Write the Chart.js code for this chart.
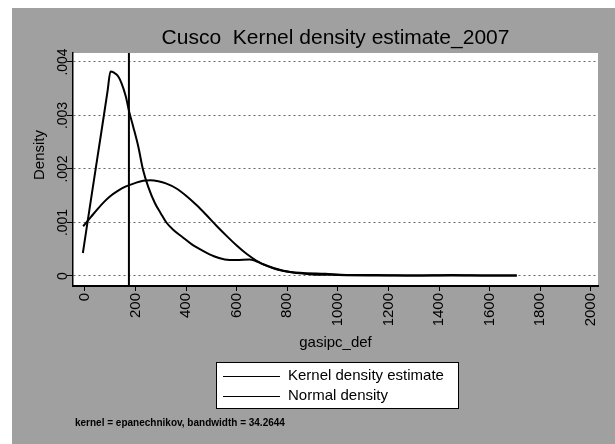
<!DOCTYPE html>
<html>
<head>
<meta charset="utf-8">
<script src="https://cdn.jsdelivr.net/npm/chart.js@4/dist/chart.umd.min.js"></script>
<style>
  html, body { margin: 0; padding: 0; background: #fff; }
  canvas { display: block; }
</style>
</head>
<body>
<canvas id="chart" width="615" height="444"></canvas>
<script>
// values
const kernelX = [-8, 0, 25, 50, 75, 90, 101, 115, 132, 145, 162, 175, 191, 211, 230, 250, 277, 300, 322, 350, 385, 420, 467, 510, 553, 600, 650, 680, 705, 745, 784, 850, 950, 1034, 1150, 1300, 1450, 1600, 1707];
const kernelY = [0.00043, 0.00068, 0.00146, 0.00223, 0.0030, 0.00347, 0.00382, 0.0038, 0.00373, 0.0036, 0.00335, 0.00307, 0.00279, 0.00242, 0.00198, 0.00167, 0.00136, 0.00117, 0.001, 0.00086, 0.00073, 0.0006, 0.00047, 0.00037, 0.00031, 0.0003, 0.00031, 0.00027, 0.00022, 0.00015, 0.0001, 0.00006, 0.00004, 0.00002, 0.00002, 0.00001, 0.00002, 0.00001, 0.00001];

const normalX = [-7, 25, 50, 75, 100, 130, 160, 200, 230, 260, 290, 320, 360, 400, 440, 480, 520, 560, 600, 640, 680, 720, 760, 800, 850, 900, 1000, 1200, 1707];
const normalY = [0.00093, 0.00111, 0.00125, 0.00138, 0.00149, 0.00159, 0.00167, 0.00174, 0.00178, 0.00179, 0.00177, 0.00173, 0.00164, 0.0015, 0.00133, 0.00114, 0.00094, 0.00075, 0.00057, 0.00041, 0.00028, 0.00019, 0.00012, 0.00008, 0.00005, 0.00003, 0.00002, 0.00001, 0.00001];

const refLine = 174;
const xRange = [-47, 2028];
const yRange = [-0.000187, 0.004168];

const titleText = 'Cusco  Kernel density estimate_2007';
const xTitle = 'gasipc_def';
const yTitle = 'Density';
const legendLabels = ['Kernel density estimate', 'Normal density'];
const noteText = 'kernel = epanechnikov, bandwidth = 34.2644';

const FONT = '"Liberation Sans", Arial, Helvetica, sans-serif';

function fmtY(v) {
  if (Math.abs(v) < 1e-9) return '0';
  return v.toFixed(3).replace(/^0/, '');
}

const toPts = (xs, ys) => xs.map((x, i) => ({ x: x, y: ys[i] }));

const paper = {
  id: 'paper',
  beforeDraw(chart) {
    const { ctx, chartArea: a } = chart;
    ctx.save();
    ctx.fillStyle = '#fff';
    ctx.fillRect(0, 0, chart.width, chart.height);
    ctx.fillStyle = '#a0a0a0';
    ctx.fillRect(12, 8, chart.width - 12, chart.height - 8);
    ctx.fillStyle = '#fff';
    ctx.fillRect(a.left, a.top, a.right - a.left, a.bottom - a.top);
    ctx.restore();
  },
  beforeDatasetsDraw(chart) {
    // vertical reference line
    const { ctx, chartArea: a } = chart;
    const px = chart.scales.x.getPixelForValue(refLine);
    ctx.save();
    ctx.strokeStyle = '#000';
    ctx.lineWidth = 2;
    ctx.beginPath();
    ctx.moveTo(px, a.top);
    ctx.lineTo(px, a.bottom);
    ctx.stroke();
    ctx.restore();
  },
  afterDraw(chart) {
    const { ctx, chartArea: a } = chart;
    const ys = chart.scales.y;
    ctx.save();
    ctx.fillStyle = '#000';

    // title
    ctx.font = '21px ' + FONT;
    ctx.textAlign = 'center';
    ctx.textBaseline = 'middle';
    ctx.fillText(titleText, (a.left + a.right) / 2, 38);

    // y tick labels, rotated like Stata's
    ctx.font = '14px ' + FONT;
    ys.ticks.forEach(t => {
      ctx.save();
      ctx.translate(63, ys.getPixelForValue(t.value));
      ctx.rotate(-Math.PI / 2);
      ctx.fillText(fmtY(t.value), 0, 0);
      ctx.restore();
    });

    // y title
    ctx.font = '15px ' + FONT;
    ctx.save();
    ctx.translate(40, 155);
    ctx.rotate(-Math.PI / 2);
    ctx.fillText(yTitle, 0, 0);
    ctx.restore();

    // x title
    ctx.fillText(xTitle, (a.left + a.right) / 2, 343);

    // legend box
    const bx = 216, by = 362, bw = 242, bh = 46;
    ctx.fillStyle = '#fff';
    ctx.fillRect(bx, by, bw, bh);
    ctx.strokeStyle = '#000';
    ctx.lineWidth = 1;
    ctx.strokeRect(bx + 0.5, by + 0.5, bw, bh);
    ctx.fillStyle = '#000';
    ctx.textAlign = 'left';
    ctx.font = '15px ' + FONT;
    legendLabels.forEach((lab, i) => {
      const ly = 376 + i * 20;
      ctx.beginPath();
      ctx.moveTo(223, ly + 0.5);
      ctx.lineTo(280, ly + 0.5);
      ctx.stroke();
      ctx.fillText(lab, 288, ly);
    });

    // note
    ctx.font = 'bold 10px ' + FONT;
    ctx.fillText(noteText, 75, 423);
    ctx.restore();
  }
};

new Chart(document.getElementById('chart'), {
  type: 'line',
  data: {
    datasets: [
      {
        label: legendLabels[0],
        data: toPts(kernelX, kernelY),
        borderColor: '#000',
        borderWidth: 2,
        pointRadius: 0,
        cubicInterpolationMode: 'monotone',
        fill: false
      },
      {
        label: legendLabels[1],
        data: toPts(normalX, normalY),
        borderColor: '#000',
        borderWidth: 2,
        pointRadius: 0,
        cubicInterpolationMode: 'monotone',
        fill: false
      }
    ]
  },
  options: {
    responsive: false,
    animation: false,
    devicePixelRatio: 1,
    layout: { padding: { top: 53, right: 17, left: 0, bottom: 0 } },
    plugins: {
      legend: { display: false },
      title: { display: false },
      tooltip: { enabled: false }
    },
    scales: {
      x: {
        type: 'linear',
        min: xRange[0],
        max: xRange[1],
        afterFit: s => { s.height = 158; },
        ticks: {
          stepSize: 200,
          includeBounds: false,
          minRotation: 90,
          maxRotation: 90,
          padding: 2,
          color: '#000',
          font: { family: FONT, size: 15 },
          callback: v => String(v)
        },
        grid: {
          drawOnChartArea: false,
          tickLength: 5,
          tickColor: '#000',
          tickWidth: 1
        },
        border: { display: true, color: '#000', width: 2 }
      },
      y: {
        type: 'linear',
        min: yRange[0],
        max: yRange[1],
        afterFit: s => { s.width = 73; },
        ticks: {
          stepSize: 0.001,
          includeBounds: false,
          display: false
        },
        grid: {
          color: '#666',
          lineWidth: 1,
          tickLength: 6,
          tickColor: '#000',
          tickWidth: 1
        },
        border: { display: true, color: '#000', width: 1.5, dash: [2, 3] }
      }
    }
  },
  plugins: [paper]
});
</script>
</body>
</html>
